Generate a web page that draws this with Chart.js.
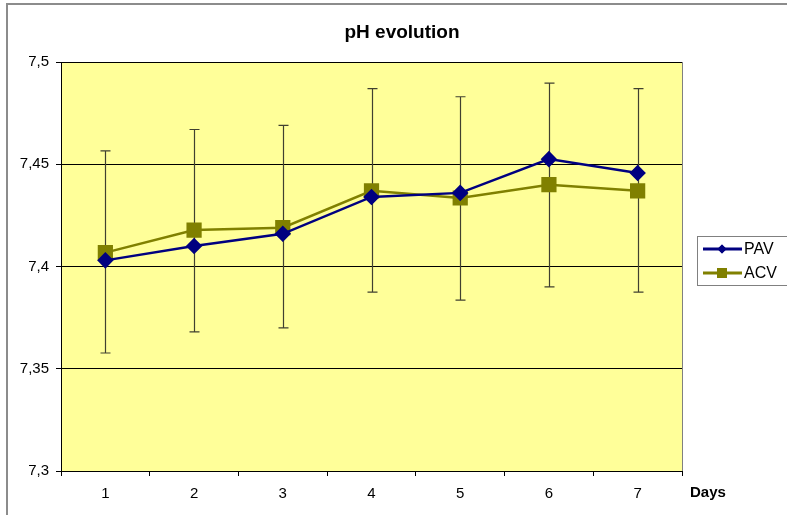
<!DOCTYPE html>
<html lang="en">
<head>
  <meta charset="UTF-8">
  <title>pH evolution</title>
  <script src="https://cdn.jsdelivr.net/npm/chart.js"></script>
  <style>
    * { margin: 0; padding: 0; box-sizing: border-box; }
    body { background: white; }
    .wrap { width: 787px; height: 515px; position: relative; }
  </style>
</head>
<body>
  <div class="wrap">
    <canvas id="phChart"></canvas>
  </div>

  <script>
    // values
    const days = ['1', '2', '3', '4', '5', '6', '7'];
    const pavValues = [7.403, 7.410, 7.416, 7.434, 7.436, 7.4525, 7.4457];
    const acvValues = [7.4068, 7.4178, 7.419, 7.437, 7.4335, 7.440, 7.437];
    const errUpper = [7.4565, 7.467, 7.469, 7.487, 7.483, 7.4897, 7.487];
    const errLower = [7.3577, 7.368, 7.370, 7.3875, 7.3836, 7.390, 7.3875];
    const yTicks = [7.3, 7.35, 7.4, 7.45, 7.5];

    const FONT = "'Liberation Sans', Arial, sans-serif";
    const pavColor = '#000080';
    const acvColor = '#808000';

    const decorPlugin = {
      id: 'decor',
      beforeDraw(chart) {
        const { ctx, chartArea: a } = chart;
        ctx.save();
        ctx.fillStyle = '#ffff99';
        ctx.fillRect(a.left, a.top, a.right - a.left, a.bottom - a.top);
        ctx.strokeStyle = '#808080';
        ctx.lineWidth = 1;
        ctx.beginPath();
        ctx.moveTo(a.right + 0.5, a.top);
        ctx.lineTo(a.right + 0.5, a.bottom);
        ctx.stroke();
        // outer chart border
        ctx.lineWidth = 2;
        ctx.strokeStyle = '#8c8c8c';
        ctx.strokeRect(7, 4, 800, 600);
        ctx.restore();
      },
      beforeDatasetsDraw(chart) {
        const { ctx, scales: { x, y } } = chart;
        ctx.save();
        ctx.strokeStyle = '#404030';
        ctx.lineWidth = 1.2;
        days.forEach((d, i) => {
          const px = Math.round(x.getPixelForValue(i)) + 0.5;
          const top = y.getPixelForValue(errUpper[i]);
          const bot = y.getPixelForValue(errLower[i]);
          ctx.beginPath();
          ctx.moveTo(px, top); ctx.lineTo(px, bot);
          ctx.moveTo(px - 5, top); ctx.lineTo(px + 5, top);
          ctx.moveTo(px - 5, bot); ctx.lineTo(px + 5, bot);
          ctx.stroke();
        });
        ctx.restore();
      },
      afterDraw(chart) {
        const { ctx } = chart;
        ctx.save();
        // title
        ctx.fillStyle = '#000';
        ctx.font = 'bold 19px ' + FONT;
        ctx.textAlign = 'center';
        ctx.textBaseline = 'middle';
        ctx.fillText('pH evolution', 402, 33);
        // x axis title
        ctx.font = 'bold 15px ' + FONT;
        ctx.textAlign = 'left';
        ctx.fillText('Days', 690, 493);
        // legend
        ctx.strokeStyle = '#808080';
        ctx.lineWidth = 1;
        ctx.strokeRect(697.5, 236.5, 100, 49);
        const items = [
          { label: 'PAV', color: pavColor, style: 'rectRot', r: 4.5, y: 249 },
          { label: 'ACV', color: acvColor, style: 'rect', r: 7, y: 273 }
        ];
        ctx.font = '16px ' + FONT;
        items.forEach(it => {
          ctx.strokeStyle = it.color;
          ctx.lineWidth = 3;
          ctx.beginPath();
          ctx.moveTo(703, it.y); ctx.lineTo(742, it.y);
          ctx.stroke();
          ctx.fillStyle = it.color;
          Chart.helpers.drawPoint(ctx, { pointStyle: it.style, radius: it.r, borderWidth: 0 }, 722, it.y);
          ctx.fill();
          ctx.fillStyle = '#000';
          ctx.fillText(it.label, 744, it.y + 1);
        });
        ctx.restore();
      }
    };

    function fmt(v) {
      return String(Number(v.toFixed(2))).replace('.', ',');
    }

    new Chart(document.getElementById('phChart'), {
      type: 'line',
      data: {
        labels: days,
        datasets: [
          {
            label: 'PAV',
            data: pavValues,
            borderColor: pavColor,
            backgroundColor: pavColor,
            borderWidth: 2.5,
            pointStyle: 'rectRot',
            pointRadius: 6.5,
            pointHoverRadius: 6.5,
            tension: 0
          },
          {
            label: 'ACV',
            data: acvValues,
            borderColor: acvColor,
            backgroundColor: acvColor,
            borderWidth: 2.5,
            pointStyle: 'rect',
            pointRadius: 9,
            pointHoverRadius: 9,
            tension: 0
          }
        ]
      },
      options: {
        responsive: true,
        maintainAspectRatio: false,
        animation: false,
        layout: { padding: { top: 62, right: 105, bottom: 0, left: 0 } },
        plugins: {
          legend: { display: false },
          title: { display: false },
          tooltip: { enabled: false }
        },
        scales: {
          x: {
            offset: true,
            grid: {
              offset: true,
              drawOnChartArea: false,
              drawTicks: true,
              tickLength: 5,
              tickColor: '#000'
            },
            border: { color: '#000', width: 1 },
            ticks: {
              color: '#000',
              font: { family: FONT, size: 15 },
              padding: 9,
              maxRotation: 0
            },
            afterFit(s) { s.height = 44; }
          },
          y: {
            min: 7.3,
            max: 7.5,
            afterBuildTicks(s) { s.ticks = yTicks.map(v => ({ value: v })); },
            grid: {
              color: '#000',
              lineWidth: 1,
              tickLength: 5,
              tickColor: '#000'
            },
            border: { color: '#000', width: 1 },
            ticks: {
              color: '#000',
              font: { family: FONT, size: 15 },
              padding: 7,
              callback: v => fmt(v)
            },
            afterFit(s) { s.width = 61; }
          }
        }
      },
      plugins: [decorPlugin]
    });
  </script>
</body>
</html>
